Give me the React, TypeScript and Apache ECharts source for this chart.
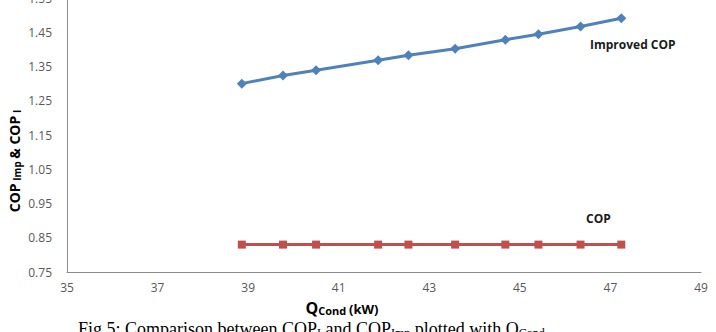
import React, { useEffect, useRef } from "react";
import * as echarts from "echarts";

const qCond = [38.86, 39.77, 40.5, 41.87, 42.54, 43.57, 44.68, 45.41, 46.34, 47.24];
const copImproved = [1.3, 1.324, 1.339, 1.368, 1.383, 1.402, 1.428, 1.444, 1.467, 1.491];
const copBase = [0.83, 0.83, 0.83, 0.83, 0.83, 0.83, 0.83, 0.83, 0.83, 0.83];
const xTicks = { min: 35, max: 49, step: 2 };
const yTicks = { min: 0.75, max: 1.55, step: 0.1 };

export default function App() {
  const ref = useRef<HTMLDivElement>(null);
  useEffect(() => {
    if (!ref.current) return;
    const chart = echarts.init(ref.current, null, { renderer: "svg" });
    const labelFont = "'Open Sans', 'Liberation Sans', sans-serif";
    chart.setOption({
      animation: false,
      backgroundColor: "#ffffff",
      grid: { left: 67, right: 15, top: -2, height: 274, containLabel: false, outerBoundsMode: "none" },
      xAxis: {
        type: "value",
        min: xTicks.min,
        max: xTicks.max,
        interval: xTicks.step,
        axisLine: { show: true, lineStyle: { color: "#8c8c8c", width: 1 } },
        axisTick: { show: false },
        splitLine: { show: false },
        axisLabel: { color: "#595959", fontSize: 12, fontFamily: labelFont, margin: 9 },
      },
      yAxis: {
        type: "value",
        min: yTicks.min,
        max: yTicks.max,
        interval: yTicks.step,
        axisLine: { show: true, lineStyle: { color: "#8c8c8c", width: 1 } },
        axisTick: { show: false },
        splitLine: { show: false },
        axisLabel: {
          color: "#595959",
          fontSize: 12,
          fontFamily: labelFont,
          margin: 15,
          formatter: (v: number) => v.toFixed(2),
        },
      },
      series: [
        {
          name: "Improved COP",
          type: "line",
          data: qCond.map((x, i) => [x, copImproved[i]]),
          symbol: "diamond",
          symbolSize: 10,
          lineStyle: { color: "#4F81BD", width: 3 },
          itemStyle: { color: "#4F81BD" },
        },
        {
          name: "COP",
          type: "line",
          data: qCond.map((x, i) => [x, copBase[i]]),
          symbol: "rect",
          symbolSize: 8,
          lineStyle: { color: "#C0504D", width: 3 },
          itemStyle: { color: "#C0504D" },
        },
      ],
      graphic: [
        {
          type: "text",
          left: 590,
          top: 38,
          style: { text: "Improved COP", font: "bold 12px 'Open Sans', sans-serif", fill: "#1a1a1a" },
        },
        {
          type: "text",
          left: 586,
          top: 212,
          style: { text: "COP", font: "bold 12px 'Open Sans', sans-serif", fill: "#1a1a1a" },
        },
        {
          type: "text",
          x: 14,
          y: 161,
          rotation: Math.PI / 2,
          style: {
            text: "{a|COP}{s| Imp }{a|& COP}{s| I}",
            fill: "#000",
            align: "center",
            verticalAlign: "middle",
            rich: {
              a: { font: "bold 14px 'Open Sans', sans-serif", fill: "#000" },
              s: { font: "bold 10px 'Open Sans', sans-serif", fill: "#000", padding: [5, 0, 0, 0] },
            },
          },
        },
        {
          type: "text",
          x: 342,
          y: 308,
          style: {
            text: "{a|Q}{s|Cond }{b|(kW)}",
            align: "center",
            verticalAlign: "middle",
            rich: {
              a: { font: "bold 16px 'Open Sans', sans-serif", fill: "#000" },
              s: { font: "bold 11px 'Open Sans', sans-serif", fill: "#000", padding: [4, 0, 0, 0] },
              b: { font: "bold 13px 'Open Sans', sans-serif", fill: "#000", padding: [2, 0, 0, 0] },
            },
          },
        },
        {
          type: "text",
          left: 78,
          top: 320,
          style: {
            text: "{a|Fig 5: Comparison between COP}{s|I}{a| and COP}{s|Imp}{a| plotted with Q}{s|Cond}",
            rich: {
              a: { font: "18px 'Liberation Serif', serif", fill: "#000" },
              s: { font: "12px 'Liberation Serif', serif", fill: "#000", padding: [8, 0, 0, 0] },
            },
          },
        },
      ],
    });
    return () => chart.dispose();
  }, []);
  return <div ref={ref} style={{ position: "fixed", left: 0, top: 0, width: 716, height: 332 }} />;
}
